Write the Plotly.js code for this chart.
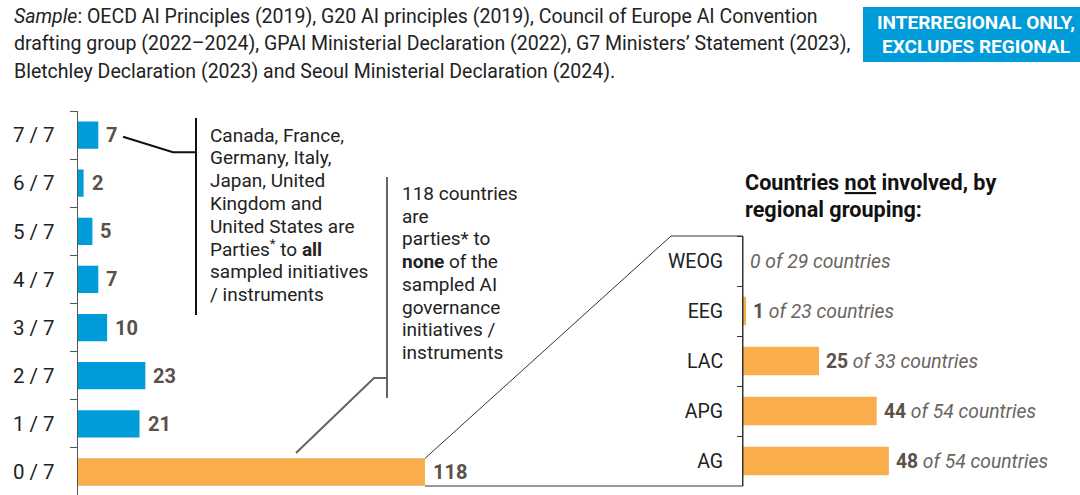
<!DOCTYPE html>
<html>
<head>
<meta charset="utf-8">
<script src="https://cdn.plot.ly/plotly-3.0.1.min.js"></script>
<style>html,body{margin:0;padding:0;background:#fff;}#chart{width:1080px;height:495px;}</style>
</head>
<body>
<div id="chart"></div>
<script>
// ---- data ----
const shareCategories = ['7 / 7', '6 / 7', '5 / 7', '4 / 7', '3 / 7', '2 / 7', '1 / 7', '0 / 7'];
const countryCounts = [7, 2, 5, 7, 10, 23, 21, 118];
const regions = ['WEOG', 'EEG', 'LAC', 'APG', 'AG'];
const notInvolved = [0, 1, 25, 44, 48];
const regionTotals = [29, 23, 33, 54, 54];
const headerLines = [
  '<i>Sample</i>: OECD AI Principles (2019), G20 AI principles (2019), Council of Europe AI Convention',
  'drafting group (2022\u20132024), GPAI Ministerial Declaration (2022), G7 Ministers\u2019 Statement (2023),',
  'Bletchley Declaration (2023) and Seoul Ministerial Declaration (2024).'
];
const allLines = ['Canada, France,', 'Germany, Italy,', 'Japan, United', 'Kingdom and', 'United States are',
  'Parties<sup>*</sup> to <b>all</b>', 'sampled initiatives', '/ instruments'];
const noneLines = ['118 countries', 'are', 'parties* to', '<b>none</b> of the', 'sampled AI', 'governance',
  'initiatives /', 'instruments'];
const rightTitleLines = ['Countries <u>not</u> involved, by', 'regional grouping:'];
const badgeLines = ['INTERREGIONAL ONLY,', 'EXCLUDES REGIONAL'];

// ---- style ----
const W = 1080, H = 495;
const BLUE = '#009bd9', ORANGE = '#f9ae4b';
const FONT = 'Roboto, "Liberation Sans", Arial, sans-serif';
const px = x => x / W;
const py = y => 1 - y / H;
const P = (x, y) => px(x).toFixed(5) + ',' + py(y).toFixed(5);

const barColors = countryCounts.map((v, i) => i === countryCounts.length - 1 ? ORANGE : BLUE);

const traces = [
  {
    type: 'bar', orientation: 'h', y: shareCategories, x: countryCounts,
    xaxis: 'x', yaxis: 'y', marker: {color: barColors}, hoverinfo: 'none'
  },
  {
    type: 'bar', orientation: 'h', y: regions, x: notInvolved,
    xaxis: 'x2', yaxis: 'y2', marker: {color: ORANGE}, hoverinfo: 'none'
  }
];

const annotations = [];
function textBlock(lines, x, yFirst, step, font, anchor) {
  lines.forEach((t, i) => annotations.push({
    xref: 'paper', yref: 'paper', x: px(x), y: py(yFirst + i * step),
    xanchor: anchor || 'left', yanchor: 'middle', text: t, showarrow: false, font: font
  }));
}
textBlock(headerLines, 12, 16.5, 27.3, {family: FONT, size: 19.5, color: '#222'});
textBlock(badgeLines.map(t => '<b>' + t + '</b>'), 976, 22.7, 24, {family: FONT, size: 19, color: '#fff'}, 'center');
textBlock(allLines, 208, 135, 22.76, {family: FONT, size: 19, color: '#222'});
textBlock(noneLines, 400, 193.3, 22.77, {family: FONT, size: 19, color: '#222'});
textBlock(rightTitleLines.map(t => '<b>' + t + '</b>'), 743, 182.5, 27.3, {family: FONT, size: 21.6, color: '#111'});

countryCounts.forEach((v, i) => annotations.push({
  xref: 'x', yref: 'y', x: v, y: shareCategories[i], xanchor: 'left', yanchor: 'middle', xshift: 6,
  text: '<b>' + v + '</b>', showarrow: false, font: {family: FONT, size: 20, color: '#5b5149'}
}));
notInvolved.forEach((v, i) => annotations.push({
  xref: 'x2', yref: 'y2', x: v, y: regions[i], xanchor: 'left', yanchor: 'middle', xshift: 5,
  text: (v === 0 ? '<span style="color:#6b6560"><i>' + v + '</i></span>' : '<b>' + v + '</b>') +
        '<span style="color:#6b6560"><i> of ' + regionTotals[i] + ' countries</i></span>',
  showarrow: false, font: {family: FONT, size: 19.3, color: '#5b5149'}
}));

const shapes = [
  // badge
  {type: 'rect', xref: 'paper', yref: 'paper', x0: px(863), x1: px(1080), y0: py(62), y1: py(7),
   fillcolor: BLUE, line: {width: 0}, layer: 'below'},
  // bracket "all"
  {type: 'line', xref: 'paper', yref: 'paper', x0: px(196), x1: px(196), y0: py(118), y1: py(315),
   line: {color: '#111', width: 2}},
  {type: 'path', xref: 'paper', yref: 'paper', path: 'M' + P(123, 136.7) + 'L' + P(173, 152.3) + 'L' + P(196, 152.3),
   line: {color: '#111', width: 2}},
  // bracket "none"
  {type: 'line', xref: 'paper', yref: 'paper', x0: px(387), x1: px(387), y0: py(177), y1: py(398),
   line: {color: '#6b6259', width: 2}},
  {type: 'path', xref: 'paper', yref: 'paper', path: 'M' + P(296, 453) + 'L' + P(374, 378) + 'L' + P(387, 378),
   line: {color: '#6b6259', width: 2}},
  // zoom polygon
  {type: 'path', xref: 'paper', yref: 'paper',
   path: 'M' + P(425, 458.4) + 'L' + P(671, 236) + 'L' + P(743, 236) + 'L' + P(743, 486) + 'L' + P(425, 486),
   line: {color: '#333', width: 1}}
];

const layout = {
  width: W, height: H,
  margin: {l: 0, r: 0, t: 0, b: 0},
  paper_bgcolor: '#fff', plot_bgcolor: 'rgba(0,0,0,0)',
  showlegend: false, bargap: 0.433,
  font: {family: FONT},
  xaxis: {domain: [px(77.7), 0.5], range: [0, 157.1], visible: false, fixedrange: true},
  yaxis: {domain: [0, py(111)], range: [7.478, -0.5], type: 'category',
    categoryorder: 'array', categoryarray: shareCategories,
    tickson: 'boundaries', ticks: 'outside', ticklen: 7, tickcolor: '#555', tickwidth: 1,
    showline: true, linecolor: '#555', linewidth: 1, showgrid: false, zeroline: false,
    ticklabelstandoff: 18, tickfont: {family: FONT, size: 20.5, color: '#222'}, fixedrange: true},
  xaxis2: {domain: [px(743), 1], range: [0, 110.9], visible: false, anchor: 'y2', fixedrange: true},
  yaxis2: {domain: [py(486), py(236)], range: [4.5, -0.5], type: 'category', anchor: 'x2',
    categoryorder: 'array', categoryarray: regions,
    tickson: 'boundaries', ticks: 'outside', ticklen: 5, tickcolor: '#333', tickwidth: 1,
    showline: true, linecolor: '#333', linewidth: 1, showgrid: false, zeroline: false,
    ticklabelstandoff: 15, tickfont: {family: FONT, size: 19.5, color: '#222'}, fixedrange: true},
  annotations: annotations,
  shapes: shapes
};

Plotly.newPlot('chart', traces, layout, {staticPlot: true, displayModeBar: false});
</script>
</body>
</html>
